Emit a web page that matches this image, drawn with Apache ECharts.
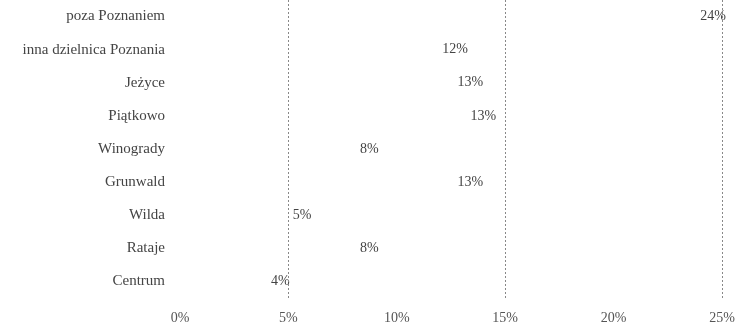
<!DOCTYPE html>
<html>
<head>
<meta charset="utf-8">
<script src="https://cdn.jsdelivr.net/npm/echarts@6/dist/echarts.min.js"></script>
<style>
  html, body { margin: 0; padding: 0; background: #fff; }
  #chart { width: 744px; height: 325px; }
</style>
</head>
<body>
<div id="chart"></div>
<script>
// dzielnice, od góry do dołu
const districts = [
  'poza Poznaniem',
  'inna dzielnica Poznania',
  'Jeżyce',
  'Piątkowo',
  'Winogrady',
  'Grunwald',
  'Wilda',
  'Rataje',
  'Centrum'
];
const shares = [24, 12.1, 12.8, 13.4, 8.3, 12.8, 5.2, 8.3, 4.2];
const dashedAt = [5, 15, 25];

const myChart = echarts.init(document.getElementById('chart'));
const font = '"Liberation Serif", "DejaVu Serif", serif';

myChart.setOption({
  animation: false,
  grid: { left: 180, right: 22, top: 0, bottom: 27 },
  xAxis: {
    type: 'value',
    min: 0,
    max: 25,
    interval: 5,
    axisLine: { show: false },
    axisTick: { show: false },
    splitLine: { show: false },
    axisLabel: {
      formatter: '{value}%',
      color: '#555',
      fontFamily: font,
      fontSize: 14,
      margin: 13
    }
  },
  yAxis: {
    type: 'category',
    inverse: true,
    data: districts,
    axisLine: { show: false },
    axisTick: { show: false },
    axisLabel: {
      color: '#444',
      fontFamily: font,
      fontSize: 15,
      margin: 15
    }
  },
  series: [
    {
      type: 'bar',
      data: shares,
      barWidth: '60%',
      itemStyle: { color: 'rgba(255,255,255,0)' },
      label: {
        show: true,
        position: 'right',
        distance: 0,
        color: '#444',
        fontFamily: font,
        fontSize: 14,
        formatter: (p) => Math.round(p.value) + '%'
      },
      markLine: {
        silent: true,
        symbol: 'none',
        label: { show: false },
        lineStyle: { type: [2, 2], color: '#888', width: 1 },
        data: dashedAt.map((v) => ({ xAxis: v }))
      }
    }
  ]
});
</script>
</body>
</html>
